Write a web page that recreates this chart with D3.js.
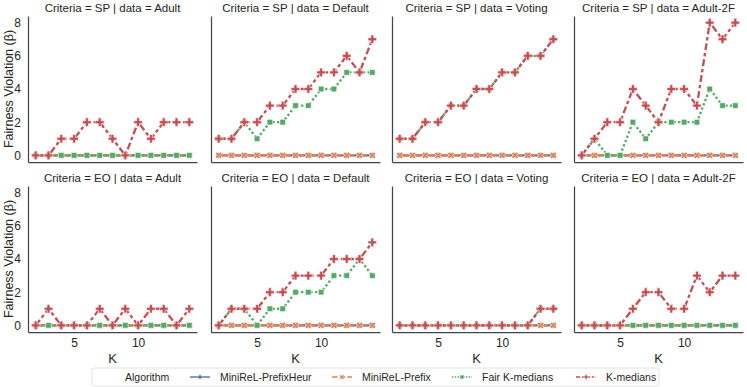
<!DOCTYPE html>
<html lang="en">
<head>
  <meta charset="utf-8">
  <script src="https://d3js.org/d3.v7.min.js"></script>
  <style>
    body { margin: 0; background: #fff; }
    text { font-family: "Liberation Sans", Arial, sans-serif; fill: #262626; }
  </style>
</head>
<body>
  <div id="chart"></div>
  <script>
  const width = 747
  const height = 387

  // ---- data ----
  const ks = [2, 3, 4, 5, 6, 7, 8, 9, 10, 11, 12, 13, 14]
  const criteria = ["SP", "EO"]
  const datasets = ["Adult", "Default", "Voting", "Adult-2F"]
  const algorithms = ["MiniReL-PrefixHeur", "MiniReL-Prefix", "Fair K-medians", "K-medians"]
  const yTicks = [0, 2, 4, 6, 8]
  const xTicks = [5, 10]

  const zeros = [0, 0, 0, 0, 0, 0, 0, 0, 0, 0, 0, 0, 0]

  // K-medians
  const kmSP_Adult   = [0, 0, 1, 1, 2, 2, 1, 0, 2, 1, 2, 2, 2]
  const kmSP_Default = [1, 1, 2, 2, 3, 3, 4, 4, 5, 5, 6, 5, 7]
  const kmSP_Voting  = [1, 1, 2, 2, 3, 3, 4, 4, 5, 5, 6, 6, 7]
  const kmSP_Adult2F = [0, 1, 2, 2, 4, 3, 2, 4, 4, 3, 8, 7, 8]
  const kmEO_Adult   = [0, 1, 0, 0, 0, 1, 0, 1, 0, 1, 1, 0, 1]
  const kmEO_Default = [0, 1, 1, 1, 2, 2, 3, 3, 3, 4, 4, 4, 5]
  const kmEO_Voting  = [0, 0, 0, 0, 0, 0, 0, 0, 0, 0, 0, 1, 1]
  const kmEO_Adult2F = [0, 0, 0, 0, 1, 2, 2, 1, 1, 3, 2, 3, 3]

  // Fair K-medians
  const fairSP_Adult   = [0, 0, 0, 0, 0, 0, 0, 0, 0, 0, 0, 0, 0]
  const fairSP_Default = [1, 1, 2, 1, 2, 2, 3, 3, 4, 4, 5, 5, 5]
  const fairSP_Voting  = [1, 1, 2, 2, 3, 3, 4, 4, 5, 5, 6, 6, 7]
  const fairSP_Adult2F = [0, 1, 0, 0, 2, 1, 2, 2, 2, 2, 4, 3, 3]
  const fairEO_Adult   = [0, 0, 0, 0, 0, 0, 0, 0, 0, 0, 0, 0, 0]
  const fairEO_Default = [0, 1, 1, 0, 1, 1, 2, 2, 2, 3, 3, 4, 3]
  const fairEO_Voting  = [0, 0, 0, 0, 0, 0, 0, 0, 0, 0, 0, 1, 1]
  const fairEO_Adult2F = [0, 0, 0, 0, 0, 0, 0, 0, 0, 0, 0, 0, 0]

  const series = {
    SP: {
      "Adult":    [zeros, zeros, fairSP_Adult, kmSP_Adult],
      "Default":  [zeros, zeros, fairSP_Default, kmSP_Default],
      "Voting":   [zeros, zeros, fairSP_Voting, kmSP_Voting],
      "Adult-2F": [zeros, zeros, fairSP_Adult2F, kmSP_Adult2F]
    },
    EO: {
      "Adult":    [zeros, zeros, fairEO_Adult, kmEO_Adult],
      "Default":  [zeros, zeros, fairEO_Default, kmEO_Default],
      "Voting":   [zeros, zeros, fairEO_Voting, kmEO_Voting],
      "Adult-2F": [zeros, zeros, fairEO_Adult2F, kmEO_Adult2F]
    }
  }

  const colors = ["#4C72B0", "#DD8452", "#55A868", "#C44E52"]
  // seaborn dash patterns, scaled by the line width like matplotlib does
  const dashBase = [null, [4, 1.5], [1, 1], [3, 1.25, 1.5, 1.25]]
  // circle, filled X (cross turned 45deg), square, filled plus
  const markers = [d3.symbolCircle, d3.symbolCross, d3.symbolSquare, d3.symbolCross]
  const markerRot = [0, 45, 0, 0]
  const markerSize = [24, 30, 32, 42]

  function dashFor(i, w) {
    return dashBase[i] ? dashBase[i].map(v => v * w).join(",") : "none"
  }

  // ---- layout ----
  const colLeft = [28, 211, 392, 574]
  const panelW = 169
  const rowTop = [16, 186]
  const panelH = 146
  const lw = 2.3

  const svg = d3.select("#chart").append("svg")
      .attr("width", width)
      .attr("height", height)

  const x = d3.scaleLinear().domain([1.4, 14.6]).range([0, panelW])
  const y = d3.scaleLinear().domain([-0.4, 8.4]).range([panelH, 0])

  criteria.forEach((c, ri) => {
    datasets.forEach((ds, ci) => {
      const g = svg.append("g")
          .attr("transform", `translate(${colLeft[ci]},${rowTop[ri]})`)

      g.append("text")
          .attr("x", panelW / 2)
          .attr("y", -4)
          .attr("text-anchor", "middle")
          .style("font-size", "11.5px")
          .text(`Criteria = ${c} | data = ${ds}`)

      // lines + markers
      series[c][ds].forEach((vals, ai) => {
        const pts = ks.map((k, i) => [k, vals[i]])
        const line = d3.line().x(d => x(d[0])).y(d => y(d[1]))
        g.append("path")
            .attr("d", line(pts))
            .attr("fill", "none")
            .attr("stroke", colors[ai])
            .attr("stroke-width", lw)
            .attr("stroke-dasharray", dashFor(ai, lw))
        g.selectAll(null)
          .data(pts)
          .enter().append("path")
            .attr("transform", d => `translate(${x(d[0])},${y(d[1])}) rotate(${markerRot[ai]})`)
            .attr("d", d3.symbol().type(markers[ai]).size(markerSize[ai])())
            .attr("fill", colors[ai])
            .attr("stroke", "#fff")
            .attr("stroke-width", 0.6)
      })

      // axes
      const ya = g.append("g").call(d3.axisLeft(y).tickValues(yTicks).tickSize(0).tickPadding(7))
      ya.select(".domain").attr("stroke", "#444").attr("stroke-width", 1.25)
      ya.selectAll("text").style("font-size", "12px")
      if (ci !== 0) ya.selectAll(".tick text").remove()

      const xa = g.append("g")
          .attr("transform", `translate(0,${panelH})`)
          .call(d3.axisBottom(x).tickValues(xTicks).tickSize(0).tickPadding(6))
      xa.select(".domain").attr("stroke", "#444").attr("stroke-width", 1.25)
      xa.selectAll("text").style("font-size", "12px")
      if (ri === 0) xa.selectAll(".tick text").remove()

      if (ri === 1) {
        g.append("text")
            .attr("x", panelW / 2)
            .attr("y", panelH + 31)
            .attr("text-anchor", "middle")
            .style("font-size", "13px")
            .text("K")
      }

      if (ci === 0) {
        g.append("text")
            .attr("transform", `translate(${-15},${panelH / 2}) rotate(-90)`)
            .attr("text-anchor", "middle")
            .style("font-size", "12.5px")
            .text("Fairness Violation (β)")
      }
    })
  })

  // ---- legend ----
  const leg = svg.append("g").attr("transform", "translate(92,368)")
  leg.append("rect")
      .attr("width", 567)
      .attr("height", 18)
      .attr("rx", 2.5)
      .attr("fill", "#fff")
      .attr("stroke", "#dcdcdc")
      .attr("stroke-width", 0.8)
  leg.append("text")
      .attr("x", 33)
      .attr("y", 13)
      .style("font-size", "10.5px")
      .text("Algorithm")

  const legX = [98, 240, 360, 484]
  algorithms.forEach((a, i) => {
    const lg = leg.append("g").attr("transform", `translate(${legX[i]},9)`)
    lg.append("line")
        .attr("x1", 0).attr("x2", 20)
        .attr("stroke", colors[i])
        .attr("stroke-width", 1.4)
        .attr("stroke-dasharray", dashFor(i, 1.4))
    lg.append("path")
        .attr("transform", `translate(10,0) rotate(${markerRot[i]})`)
        .attr("d", d3.symbol().type(markers[i]).size(14)())
        .attr("fill", colors[i])
        .attr("stroke", "#fff")
        .attr("stroke-width", 0.4)
    lg.append("text")
        .attr("x", 30)
        .attr("y", 4)
        .style("font-size", "10.5px")
        .text(a)
  })
  </script>
</body>
</html>
